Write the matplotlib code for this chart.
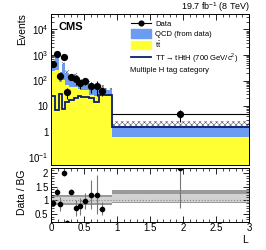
import numpy as np
import matplotlib
matplotlib.use("Agg")
import matplotlib.pyplot as plt
from matplotlib.lines import Line2D
from matplotlib.patches import Patch

plt.rcParams['font.family'] = ['Liberation Sans', 'DejaVu Sans']
plt.rcParams['mathtext.fontset'] = 'custom'
plt.rcParams['mathtext.rm'] = 'Liberation Sans'
plt.rcParams['hatch.linewidth'] = 0.4

# bin edges of L (variable binning, last bin is wide)
edges = np.array([0, 0.06, 0.115, 0.165, 0.215, 0.27, 0.35, 0.41, 0.46,
                  0.57, 0.65, 0.73, 0.81, 0.92, 3.0])

ttbar = np.array([230, 260, 90, 110, 70, 55, 55, 45, 42, 28, 26, 28, 25, 0.65])
qcd = np.array([270, 590, 85, 320, 130, 53, 105, 55, 54, 22, 24, 27, 17, 0.95])
bkg_unc = np.array([0.25] * 13 + [0.7])          # relative, hatched band
signal = np.array([25, 7, 30, 8, 14, 17, 20, 25, 22, 20, 14, 28, 28, 1.5])

data = np.array([450, 1100, 150, 860, 36, 140, 115, 78, 94, 60, 60, 38, np.nan, 4.8])
data_rel_err = np.array([0.1, 0.12, 0.3, 0.06, 0.45, 0.08, 0.4, 0.4, 0.3,
                         0.45, 0.6, 0.35, np.nan, 0.5])

# ratio panel uncertainty bands
band_out_lo = np.array([0.82] * 13 + [0.90])
band_out_hi = np.array([1.18] * 13 + [1.36])
band_in_lo = np.array([0.88] * 13 + [0.93])
band_in_hi = np.array([1.12] * 13 + [1.24])

c_qcd = '#6b9cf2'
c_tt = '#ffff33'
c_sig = '#0c1c6e'

total = ttbar + qcd
centers = 0.5 * (edges[:-1] + edges[1:])
halfw = 0.5 * np.diff(edges)
ratio = data / total
ratio_err = ratio * data_rel_err

fig = plt.figure(figsize=(2.66, 2.5), dpi=100)
ax = fig.add_axes([0.1917, 0.34, 0.7444, 0.604])
axr = fig.add_axes([0.1917, 0.112, 0.7444, 0.218])

ylo = 0.05
ax.stairs(total * (1 + bkg_unc), edges, baseline=total * (1 - bkg_unc), fill=True,
          facecolor='none', edgecolor='#555566', hatch='xxxxxx', lw=0, zorder=1)
ax.stairs(ttbar, edges, baseline=ylo, fill=True, color=c_tt, lw=0, zorder=2)
ax.stairs(total, edges, baseline=ttbar, fill=True, color=c_qcd, lw=0, zorder=2)
ax.stairs(signal, edges, baseline=None, color=c_sig, lw=1.3, zorder=3)
ax.errorbar(centers, data, yerr=data * data_rel_err, xerr=halfw, fmt='o', color='k',
            ms=4.2, elinewidth=0.8, capsize=0, zorder=4)

ax.set_yscale('log')
ax.set_xlim(0, 3)
ax.set_ylim(ylo, 4e4)
ax.set_yticks([0.1, 1, 10, 100, 1000, 10000])
ax.set_yticklabels([r'$10^{-1}$', '1', '10', r'$10^{2}$', r'$10^{3}$', r'$10^{4}$'])
ax.tick_params(labelbottom=False)

# ratio panel
axr.stairs(band_out_hi, edges, baseline=band_out_lo, fill=True, color='#9a9a9a', lw=0)
axr.stairs(band_in_hi, edges, baseline=band_in_lo, fill=True, color='#d2d2d2', lw=0)
axr.axhline(1, color='#888888', ls=':', lw=0.8)
rtop = 2.2
axr.errorbar(centers, np.minimum(ratio, rtop), yerr=ratio_err, xerr=halfw, fmt='o',
             color='k', ecolor='#777777', ms=3.0, elinewidth=0.8, capsize=0)
axr.set_xlim(0, 3)
axr.set_ylim(0.2, rtop)
axr.set_yticks([0.5, 1, 1.5, 2])
axr.set_yticklabels(['0.5', '1', '1.5', '2'])
axr.set_xticks([0, 0.5, 1, 1.5, 2, 2.5, 3])
axr.set_xticklabels(['0', '0.5', '1', '1.5', '2', '2.5', '3'])

for a in (ax, axr):
    a.minorticks_on()
    a.tick_params(which='both', direction='in', top=True, right=True, labelsize=7, pad=2)
    a.tick_params(which='major', length=4, width=0.6)
    a.tick_params(which='minor', length=2, width=0.5)
    for s in a.spines.values():
        s.set_linewidth(0.7)
axr.tick_params(axis='x', pad=1)

handles = [Line2D([], [], color='k', marker='o', ms=3.4, lw=0.8),
           Patch(color=c_qcd), Patch(color=c_tt),
           Line2D([], [], color=c_sig, lw=1.3)]
labels = ['Data', 'QCD (from data)', r'$\mathrm{t\bar{t}}$',
          r'TT$\rightarrow$tHtH (700 GeV/c$^{2}$)']
ax.legend(handles, labels, loc='upper left', bbox_to_anchor=(0.38, 0.995),
          frameon=False, fontsize=5.5, handlelength=2.6, handleheight=1.35,
          labelspacing=0.15, borderaxespad=0.2, handletextpad=0.6)
ax.text(0.40, 0.625, 'Multiple H tag category', transform=ax.transAxes,
        fontsize=5.5, va='center')
ax.text(0.04, 0.95, 'CMS', transform=ax.transAxes, fontsize=8,
        fontweight='bold', va='top')

fig.text(0.94, 0.972, r'19.7 fb$^{-1}$ (8 TeV)', ha='right', va='center', fontsize=6.5)
fig.text(0.083, 0.948, 'Events', rotation=90, ha='center', va='top', fontsize=7.5)
fig.text(0.083, 0.23, 'Data / BG', rotation=90, ha='center', va='center', fontsize=7.5)
fig.text(0.93, 0.04, 'L', ha='right', va='center', fontsize=7.5)

fig.savefig('out.png', dpi=100)
